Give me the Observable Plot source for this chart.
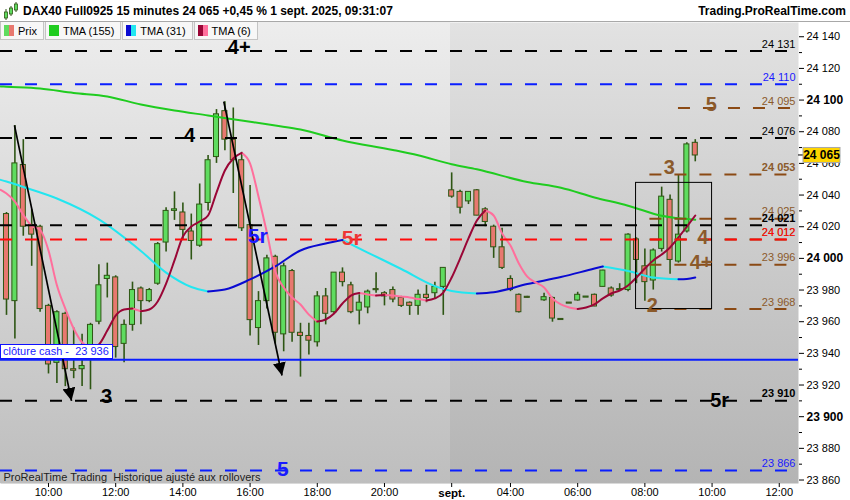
<!DOCTYPE html>
<html lang="fr">
<head>
<meta charset="utf-8">
<script src="https://cdn.jsdelivr.net/npm/d3@7"></script>
<script src="https://cdn.jsdelivr.net/npm/@observablehq/plot@0.6"></script>
<style>
html,body{margin:0;padding:0;background:#fff}
#wrap{position:relative;width:850px;height:500px;overflow:hidden;font-family:"Liberation Sans",Arial,Helvetica,sans-serif}
#hdr{position:absolute;left:0;top:0;width:850px;height:21px;border-bottom:1px solid #a8a8a8;background:#fff}
#hdr .t{position:absolute;left:23px;top:4px;font-weight:bold;font-size:12px;color:#000;white-space:pre}
#hdr .r{position:absolute;right:4px;top:4px;font-weight:bold;font-size:12px;color:#000}
#hdr svg{position:absolute;left:2px;top:1px}
#chart{position:absolute;left:0;top:22px}
#legend{position:absolute;left:0;top:22px;height:18px;display:flex}
.li{box-sizing:border-box;height:18px;border:1px solid #c4c4c4;border-top:none;background:#f7f7f7;display:flex;align-items:center;padding:0 6px 0 3px;font-size:11px;margin-right:1px;color:#000}
.sw{width:10px;height:11px;display:flex;margin-right:4px}
.sw span{flex:1}
#cash{position:absolute;left:0;box-sizing:border-box;height:15px;border:1px solid #1010ff;background:#fff;color:#1a1aff;font-size:11px;line-height:13px;padding:0 3px 0 2px;white-space:pre}
</style>
</head>
<body>
<div id="wrap">
  <div id="chart"></div>
  <div id="hdr">
    <svg width="18" height="20">
      <line x1="4" y1="8" x2="4" y2="19" stroke="#2e5614"/><rect x="2.5" y="11" width="3" height="6" fill="#5fdc5f" stroke="#2e5614" stroke-width="0.8"/>
      <line x1="9" y1="5" x2="9" y2="15" stroke="#2e5614"/><rect x="7.5" y="7" width="3" height="6" fill="#5fdc5f" stroke="#2e5614" stroke-width="0.8"/>
      <line x1="14" y1="1" x2="14" y2="11" stroke="#2e5614"/><rect x="12.5" y="3" width="3" height="6" fill="#5fdc5f" stroke="#2e5614" stroke-width="0.8"/>
    </svg>
    <span class="t" id="title"></span>
    <span class="r" id="brand"></span>
  </div>
  <div id="legend"></div>
  <div id="cash"></div>
</div>
<script>
// ---------- texts ----------
const titleText = "DAX40 Full0925 15 minutes 24 065 +0,45 % 1 sept. 2025, 09:31:07";
const brandText = "Trading.ProRealTime.com";
const footText = "ProRealTime Trading\u00a0 Historique ajusté aux rollovers";
const cashText = "clôture cash -\u00a0 23 936";
const legendLabels = ["Prix", "TMA (155)", "TMA (31)", "TMA (6)"];

// ---------- candles (15 min, index 0 = 08:45 on 31 Aug) ----------
const open = [24028,23973,24059,24021,24020,23970,23934,23965,23930,23930,
23936,23960,23987,23988,23946,23958,23981,23973,23984,24010,
24030,24029,24017,24008,24035,24064,24093,24075,24062,24021,
23956,23973,24001,23952,23992,23953,23951,23947,23976,23966,
23991,23983,23967,23969,23980.5,23978,23980,23975,23972,23970,
23977,23978,23982,24043,24042,24036,24043,24031,24020,24007,
23987,23977,23975.5,null,23973.5,23975,23961.5,23971.8,23973.4,23975.5,
23977,23982,23981,23980,23980,24012,23995,23986,24006,24037,
23998,24017,24073];
const high = [24029,24084,24075,24031,24021,23971,23967,23966,23956,23952,
23959,23996,23997,23989,23961,23985,23982,23981,24010,24032,
24042,24035,24028,24047,24065,24094,24099,24095,24067,24046,
23979,24002,24002,23997,23993,23959,23959,23979,23981,23991,
23994,23985,23977,23980,23991,23979,23982,23976,23972.5,23980,
23983,23985,23994,24054,24043,24042,24043.5,24032,24021,24019,
23989,23977.5,23976,null,23978,23975.5,23962,23972,23978.6,23975.8,
23977.5,23992.5,23982,23984,24015.5,24013,24006,24006,24045,24040,
24053,24073,24075];
const low = [23964,23949,24014,23995,23966,23927,23921,23919,23924,23919,
23917,23958,23975,23937,23934,23954,23958,23972,23983,24004,
24024,24012,23999,24007,24030,24060,24068,24041,24017,23951,
23945,23968,23946,23941,23947,23925,23939,23944,23958,23965,
23982,23965,23958,23965,23978,23970,23972,23969,23964,23964,
23972,23974,23964,24038,24028,24034,24027,24020,24000,23993,
23979,23965.5,23975,null,23973,23959.7,23961,23971.5,23973,23975.3,
23969.5,23982,23975.5,23979.5,23979,23984,23973,23980,24004,23990,
23997,24016,24061];
const close = [23974,24060,24020,24015,23968,23933,23966,23930,23929,23932,
23958,23983,23989,23944,23958,23980,23973,23980,24009,24030,
24031,24018,24011,24034,24062,24091,24075,24062,24019,23961,
23973,24000,23953,23995,23953,23951,23948,23976,23965,23991,
23985,23966,23972,23979,23980,23976,23974,23970,23970,23977,
23975,23982,23994,24039,24032,24042,24027,24023,24007,23994,
23980,23966,23975.3,null,23975.5,23962,23961.3,23971.7,23977,23975.6,
23969.6,23992.3,23976.5,23980.5,24015,23999,23985,24005,24039,23999,
24015,24072,24065];
const lastPrice = 24065;

// ---------- moving averages (read at candle indices) ----------
const tma155Idx = [-0.7,0,4,8,12,16,20,24,28,32,35,40,46,49,53,56,62,66,70,74,78,82];
const tma155Val = [24108.6,24108.4,24107.3,24104.5,24102.3,24097.2,24093.4,24090.3,24087.1,24083.9,24081.4,24074.5,24068.5,24065.1,24059.5,24056.3,24048.2,24044.6,24038.5,24033.3,24026.9,24024.4];
const tma31Idx = [-0.7,0,2,6,11,16,19,22,24,26,29,32,35,38,40,43,47,51,53,56,58,62,66,70,71,74,77,80,81,82];
const tma31Val = [24049.6,24048.6,24045.1,24037.8,24024.6,24004.7,23991,23981.9,23979.1,23980.3,23986.7,23994.9,24005,24009.4,24011.6,24003.7,23993.3,23982.5,23979.4,23977.8,23978.6,23983.8,23988.2,23993.6,23994.9,23992,23987.9,23986.8,23987,23987.9];
const tma6Idx = [-0.7].concat(d3.range(83));
const tma6Val = [24043.3,
24041,24035.9,24027.5,24020.5,24018,24005,23983,23968.3,23955.7,23946.9,
23943.1,23945.6,23954.4,23963.9,23967.7,23968.3,23966.6,23967.7,23972.8,23984.1,
23998.7,24013.8,24020.1,24023.3,24027.1,24041.6,24055.5,24063.1,24066.6,24059.9,
24039.1,24016.3,23991.7,23981.6,23975.3,23970.9,23964.5,23960.1,23961.4,23965.2,
23971.5,23976.5,23978.1,23977.2,23976.5,23976.9,23976.5,23975.9,23975.3,23974.3,
23973.4,23974.7,23978.4,23987.9,23999.9,24012.6,24023.9,24030.2,24027.1,24015.7,
24008.1,23996.8,23988.5,23984.8,23981.6,23974.7,23970.9,23969,23968.1,23969,
23970.9,23974.7,23977.8,23979.7,23982.9,23987.9,23993.6,23998.7,24002.4,24006.9,
24013.2,24020.1,24027.1];

// ---------- horizontal levels ----------
const blackLevels = [24131, 24076, 24021, 23910];
const blueLevels = [24110, 23866];
const redLevels = [24012];
const brownLevels = [24095, 24053, 24025, 24012, 23996, 23968];
const brownFrom = [80, 76.6, 76.6, 76.6, 76.6, 76.6];
const cashLevel = 23936;
const boldLevelLabels = [24053, 24021, 23910];

// ---------- annotations ----------
const blackNoteText = ["4+", "4", "3", "5r"];
const blackNoteIdx = [27.7, 21.8, 11.9, 84.9];
const blackNoteP = [24133, 24077.3, 23912.4, 23910.2];
const redNoteText = ["5r"], redNoteIdx = [41.1], redNoteP = [24012.6];
const blueNoteText = ["5r", "5"], blueNoteIdx = [29.9, 32.9], blueNoteP = [24014.1, 23867];
const brownNoteText = ["5", "3", "4", "4+", "2"];
const brownNoteIdx = [83.9, 78.9, 82.9, 82.7, 76.9];
const brownNoteP = [24096.9, 24057.1, 24012.9, 23997.1, 23969.9];
const arrowFromIdx = [0.95, 25.87], arrowFromP = [24084, 24099];
const arrowToIdx = [7.74, 32.8], arrowToP = [23910, 23926];
const boxIdx = [74.95, 84], boxP = [23968, 24047.7];
const dayBreakIdx = 52.86;

// ---------- axes ----------
const xTickIdx = [5,13,21,29,37,45,53,60,68,76,84,92];
const xTickLab = ["10:00","12:00","14:00","16:00","18:00","20:00","sept.","04:00","06:00","08:00","10:00","12:00"];
const xBoldLab = ["sept."];
const yTicks = [23860,23880,23900,23920,23940,23960,23980,24000,24020,24040,24060,24080,24100,24120,24140];
const yBold = [23900, 24000, 24100];
const yMinor = [23870,23890,23910,23930,23950,23970,23990,24010,24030,24050,24070,24090,24110,24130];

// ---------- colours ----------
const C = {
  up: "#5fdc5f", down: "#e8786f", edge: "#2e5614",
  g155: "#1fcc1f", cyan: "#22e6f0", navy: "#0a0ad2", pink: "#ff6f9c", maroon: "#9a0636",
  black: "#000", blue: "#0a1eff", red: "#ff0a0a", brown: "#8b4a14", brownText: "#8b5a2b",
  redText: "#ee3535", blueText: "#1a1aff"
};

// ---------- build ----------
const fmt = d3.formatLocale({decimal: ",", thousands: " ", grouping: [3], currency: ["", ""]}).format(",");
const candles = open.map((o, i) => ({i, o, h: high[i], l: low[i], c: close[i]})).filter(d => d.o != null);
const upC = candles.filter(d => d.c >= d.o), dnC = candles.filter(d => d.c < d.o);
const bodyY1 = d => (Math.abs(d.c - d.o) < 0.7 ? (d.o + d.c) / 2 - 0.35 : Math.min(d.o, d.c));
const bodyY2 = d => (Math.abs(d.c - d.o) < 0.7 ? (d.o + d.c) / 2 + 0.35 : Math.max(d.o, d.c));

function runs(idx, val) {
  const up = [], down = [];
  let dir = null, id = 0;
  for (let k = 0; k < idx.length - 1; k++) {
    const d = val[k + 1] > val[k];
    if (d !== dir) { id++; dir = d; (d ? up : down).push({i: idx[k], v: val[k], run: id}); }
    (d ? up : down).push({i: idx[k + 1], v: val[k + 1], run: id});
  }
  return {up, down};
}
const t155 = tma155Idx.map((i, k) => ({i, v: tma155Val[k]}));
const r31 = runs(tma31Idx, tma31Val);
const r6 = runs(tma6Idx, tma6Val);

const xDomain = [-0.714, 94.29];
const yDomain = [23857.8, 24149.0];
const notes = (t, ix, p) => t.map((s, k) => ({t: s, i: ix[k], p: p[k]}));
const brownRows = brownLevels.map((v, k) => ({v, from: brownFrom[k]}));
const arrows = arrowFromIdx.map((x, k) => ({x1: x, y1: arrowFromP[k], x2: arrowToIdx[k], y2: arrowToP[k]}));
const xLab = new Map(xTickIdx.map((v, k) => [v, xTickLab[k]]));
const xNormal = xTickIdx.filter(v => !xBoldLab.includes(xLab.get(v)));
const xBold = xTickIdx.filter(v => xBoldLab.includes(xLab.get(v)));

const levelLabels = (vals, fill) => [
  Plot.text(vals.filter(v => !boldLevelLabels.includes(v)), {y: d => d, text: d => fmt(d), frameAnchor: "right", textAnchor: "end", lineAnchor: "middle", dx: -3, dy: -7, fill, fontSize: 11}),
  Plot.text(vals.filter(v => boldLevelLabels.includes(v)), {y: d => d, text: d => fmt(d), frameAnchor: "right", textAnchor: "end", lineAnchor: "middle", dx: -3, dy: -7, fill, fontSize: 11, fontWeight: "bold"})
];
const noteMark = (arr, fill, size) => Plot.text(arr, {x: "i", y: "p", text: "t", fill, fontSize: size, fontWeight: "bold"});
const dash = "12 13";

const chart = Plot.plot({
  width: 850, height: 478,
  marginTop: 0, marginBottom: 17, marginLeft: 0, marginRight: 52,
  x: {domain: xDomain, label: null},
  y: {domain: yDomain, label: null},
  style: {fontFamily: "'Liberation Sans', Arial, Helvetica, sans-serif", background: "#fff", color: "#000"},
  marks: [
    Plot.frame({fill: "url(#bgDay2)", stroke: "none"}),
    Plot.rect([0], {x1: () => xDomain[0], x2: () => dayBreakIdx, y1: () => yDomain[0], y2: () => yDomain[1], fill: "url(#bgDay1)"}),
    // candles
    Plot.ruleX(candles, {x: "i", y1: "l", y2: "h", stroke: C.edge, strokeWidth: 1.6}),
    Plot.rect(upC, {x1: d => d.i - 0.3, x2: d => d.i + 0.3, y1: bodyY1, y2: bodyY2, fill: C.up, stroke: C.edge, strokeWidth: 1}),
    Plot.rect(dnC, {x1: d => d.i - 0.3, x2: d => d.i + 0.3, y1: bodyY1, y2: bodyY2, fill: C.down, stroke: C.edge, strokeWidth: 1}),
    // moving averages
    Plot.line(t155, {x: "i", y: "v", stroke: C.g155, strokeWidth: 2, curve: "monotone-x"}),
    Plot.line(r31.down, {x: "i", y: "v", z: "run", stroke: C.cyan, strokeWidth: 2, curve: "monotone-x"}),
    Plot.line(r31.up, {x: "i", y: "v", z: "run", stroke: C.navy, strokeWidth: 2, curve: "monotone-x"}),
    Plot.line(r6.down, {x: "i", y: "v", z: "run", stroke: C.pink, strokeWidth: 2, curve: "monotone-x"}),
    Plot.line(r6.up, {x: "i", y: "v", z: "run", stroke: C.maroon, strokeWidth: 2, curve: "monotone-x"}),
    // levels
    Plot.ruleY(brownRows, {y: "v", x1: "from", x2: () => xDomain[1], stroke: C.brown, strokeWidth: 2, strokeDasharray: dash}),
    Plot.ruleY(blackLevels, {stroke: C.black, strokeWidth: 2, strokeDasharray: dash}),
    Plot.ruleY(blueLevels, {stroke: C.blue, strokeWidth: 2, strokeDasharray: dash}),
    Plot.ruleY(redLevels, {stroke: C.red, strokeWidth: 2, strokeDasharray: dash}),
    Plot.ruleY([cashLevel], {stroke: C.blue, strokeWidth: 2}),
    // box & arrows
    Plot.rect([0], {x1: () => boxIdx[0], x2: () => boxIdx[1], y1: () => boxP[0], y2: () => boxP[1], fill: "none", stroke: "#000", strokeWidth: 1}),
    Plot.link(arrows, {x1: "x1", y1: "y1", x2: "x2", y2: "y2", stroke: "#000", strokeWidth: 1.7}),
    // annotations
    noteMark(notes(blackNoteText, blackNoteIdx, blackNoteP), "#000", 20),
    noteMark(notes(redNoteText, redNoteIdx, redNoteP), C.redText, 21),
    noteMark(notes(blueNoteText, blueNoteIdx, blueNoteP), C.blueText, 21),
    noteMark(notes(brownNoteText, brownNoteIdx, brownNoteP), C.brownText, 20),
    ...levelLabels(brownLevels, C.brownText),
    ...levelLabels(blackLevels, "#000"),
    ...levelLabels(blueLevels, C.blueText),
    ...levelLabels(redLevels, C.red),
    Plot.text([footText], {frameAnchor: "bottom-left", textAnchor: "start", lineAnchor: "middle", dx: 3, dy: -6, fontSize: 11, fill: "#222"}),
    // axes
    Plot.axisY(yMinor, {anchor: "right", tickSize: 3, tickFormat: () => "", label: null}),
    Plot.axisY(yTicks.filter(v => !yBold.includes(v)), {anchor: "right", tickSize: 5, tickPadding: 3, tickFormat: fmt, fontSize: 11, label: null}),
    Plot.axisY(yBold, {anchor: "right", tickSize: 5, tickPadding: 3, tickFormat: fmt, fontSize: 12, fontWeight: "bold", label: null}),
    Plot.axisX(xNormal, {anchor: "bottom", tickSize: 4, tickPadding: 1, tickFormat: d => xLab.get(d), fontSize: 11, label: null}),
    Plot.axisX(xBold, {anchor: "bottom", tickSize: 4, tickPadding: 1, tickFormat: d => xLab.get(d), fontSize: 11.5, fontWeight: "bold", label: null})
  ]
});
document.getElementById("chart").appendChild(chart);

// gradients, arrowheads, price tag
const svg = d3.select(chart);
const defs = svg.insert("defs", ":first-child");
function grad(id, a, b) {
  const g = defs.append("linearGradient").attr("id", id).attr("x1", 0).attr("y1", 0).attr("x2", 0).attr("y2", 1);
  g.append("stop").attr("offset", 0).attr("stop-color", a);
  g.append("stop").attr("offset", 1).attr("stop-color", b);
}
grad("bgDay1", "#ededed", "#bebebe");
grad("bgDay2", "#e2e2e2", "#b4b4b4");
defs.append("marker").attr("id", "ah").attr("viewBox", "0 0 12 12").attr("refX", 12).attr("refY", 6)
  .attr("markerWidth", 13).attr("markerHeight", 13).attr("markerUnits", "userSpaceOnUse").attr("orient", "auto")
  .append("path").attr("d", "M0,0L12,6L0,12Z").attr("fill", "#000");
svg.selectAll('g[aria-label="link"] path').attr("marker-end", "url(#ah)");

const ys = chart.scale("y");
const yp = ys.apply(lastPrice);
const tag = svg.append("g");
tag.append("line").attr("x1", 798).attr("x2", 803).attr("y1", yp).attr("y2", yp).attr("stroke", "#000");
tag.append("rect").attr("x", 803).attr("y", yp - 7.5).attr("width", 37).attr("height", 15).attr("fill", "#ffd500").attr("stroke", "#a8a8a8");
tag.append("text").attr("x", 821.5).attr("y", yp + 4).attr("text-anchor", "middle").attr("font-size", 12).attr("font-weight", "bold").attr("fill", "#000").text(fmt(lastPrice));

// header, legend, cash label
document.getElementById("title").textContent = titleText;
document.getElementById("brand").textContent = brandText;
const sw = [[C.up, C.down], [C.g155, C.g155], [C.navy, C.cyan], [C.maroon, C.pink]];
const leg = document.getElementById("legend");
legendLabels.forEach((l, k) => {
  const d = document.createElement("div"); d.className = "li";
  d.innerHTML = `<div class="sw"><span style="background:${sw[k][0]}"></span><span style="background:${sw[k][1]}"></span></div>${l}`;
  leg.appendChild(d);
});
const cash = document.getElementById("cash");
cash.textContent = cashText;
cash.style.top = (22 + ys.apply(cashLevel) - 15) + "px";
</script>
</body>
</html>
